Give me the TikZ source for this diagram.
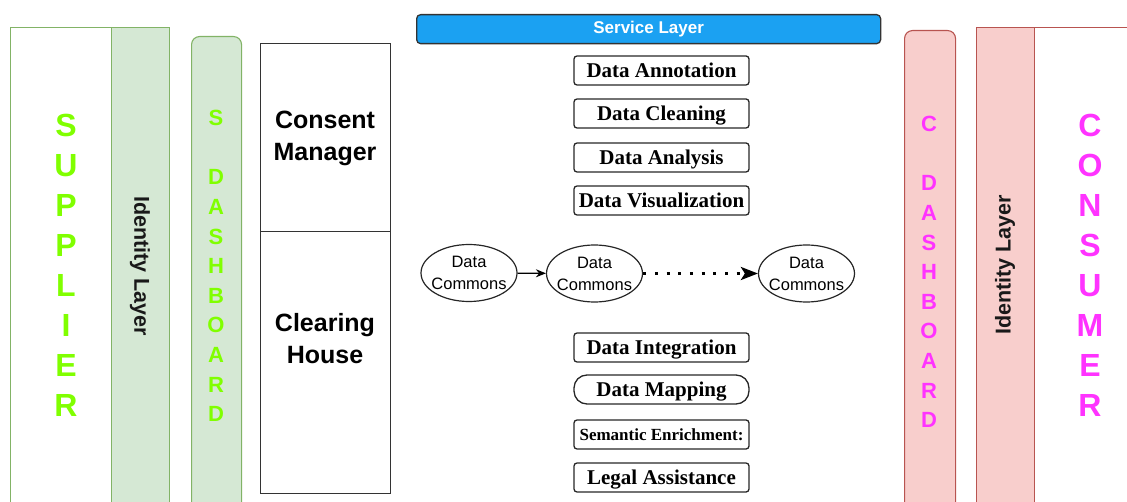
\documentclass[tikz,border=0pt]{standalone}
\usepackage{fontspec}
\setmainfont{Liberation Serif}
\setsansfont{Liberation Sans}
\usetikzlibrary{arrows.meta,shapes.geometric}
\definecolor{greenfill}{HTML}{D5E8D4}
\definecolor{greenline}{HTML}{82B366}
\definecolor{pinkfill}{HTML}{F8CECC}
\definecolor{pinkline}{HTML}{B85450}
\definecolor{limetext}{HTML}{80FF00}
\definecolor{magentatext}{HTML}{FF33FF}
\definecolor{serviceblue}{HTML}{1BA1F2}
\begin{document}
\begin{tikzpicture}[x=1pt,y=-1pt,
  panel/.style={anchor=north west, inner sep=0pt, line width=1.1pt},
  greenpanel/.style={panel, draw=greenline, fill=greenfill},
  pinkpanel/.style={panel, draw=pinkline, fill=pinkfill},
  blockbox/.style={anchor=north west, inner sep=0pt, draw=black!80, line width=1.3pt, minimum width=130pt},
  bigletters/.style={font=\sffamily\bfseries\fontsize{32}{40}\selectfont, align=center, inner sep=0pt},
  smallletters/.style={font=\sffamily\bfseries\fontsize{22}{29.6}\selectfont, align=center, inner sep=0pt},
  idtext/.style={font=\sffamily\bfseries\fontsize{21.5}{21.5}\selectfont, text=black!90, inner sep=0pt},
  blocktext/.style={font=\sffamily\bfseries\fontsize{25}{32}\selectfont, align=center, inner sep=0pt},
  svcbox/.style={draw=black!85, line width=1.3pt, rounded corners=3pt, minimum width=175pt,
    minimum height=29pt, inner sep=0pt, text height=14pt, text depth=0pt,
    font=\bfseries\fontsize{21}{21}\selectfont},
  dcshape/.style={ellipse, draw=black!85, line width=1.2pt, minimum width=96pt, minimum height=57pt, inner sep=0pt},
  dctext/.style={font=\sffamily\fontsize{16.5}{22}\selectfont, align=center, inner sep=0pt},
]
\useasboundingbox (0,0) rectangle (1127,502);

% supplier side
\node[panel, draw=greenline, fill=white, minimum width=159pt, minimum height=500pt] (supplier) at (10,27) {};
\node[greenpanel, minimum width=58pt, minimum height=500pt] (supid) at (111,27) {};
\node[greenpanel, rounded corners=8pt, minimum width=50pt, minimum height=500pt] (sdash) at (191,36) {};
\node[bigletters, text=limetext] (suptext) at (66,265) {S\\U\\P\\P\\L\\I\\E\\R};
\node[idtext, rotate=-90] (supidtext) at (140,266) {Identity Layer};
\node[smallletters, text=limetext] (sdashtext) at (216,266) {S\\\mbox{}\\D\\A\\S\\H\\B\\O\\A\\R\\D};

% consent manager and clearing house
\node[blockbox, minimum height=188pt] (consent) at (260,43) {};
\node[blockbox, minimum height=262pt] (clearing) at (260,231) {};
\node[blocktext] (consenttext) at (325,138) {Consent\\Manager};
\node[blocktext] (clearingtext) at (325,339) {Clearing\\House};

% service layer
\node[anchor=north west, draw=black!80, line width=1.3pt, fill=serviceblue, rounded corners=4pt,
  minimum width=464pt, minimum height=29pt, inner sep=0pt, text=white,
  font=\sffamily\bfseries\fontsize{17}{17}\selectfont] (service) at (416,14) {Service Layer};

\node[svcbox] (annot) at (661.5,70.5) {Data Annotation};
\node[svcbox] (clean) at (661.5,113.5) {Data Cleaning};
\node[svcbox] (analysis) at (661.5,157.5) {Data Analysis};
\node[svcbox] (visual) at (661.5,200.5) {Data Visualization};
\node[svcbox] (integ) at (661.5,347.5) {Data Integration};
\node[svcbox, rounded corners=13pt] (mapping) at (661.5,389.5) {Data Mapping};
\node[svcbox, text height=11.3pt, font=\bfseries\fontsize{17}{17}\selectfont] (semantic) at (661.5,434.5) {Semantic Enrichment:};
\node[svcbox] (legal) at (661.5,477.5) {Legal Assistance};

% chain of data commons
\node[dcshape] (dc1) at (469,273) {};
\node[dcshape] (dc2) at (594.5,273.5) {};
\node[dcshape] (dc3) at (806.5,273.5) {};
\node[dctext] (dc1t) at (dc1) {Data\\Commons};
\node[dctext] (dc2t) at (dc2) {Data\\Commons};
\node[dctext] (dc3t) at (dc3) {Data\\Commons};
\draw[line width=1.3pt, -{Stealth[length=10pt,width=8pt]}] (dc1) -- (dc2);
\draw[line width=3pt, dash pattern=on 3pt off 8.7pt, -{Stealth[length=17pt,width=13pt,inset=4pt]}] (dc2) -- (dc3);

% consumer side
\node[pinkpanel, rounded corners=8pt, minimum width=51pt, minimum height=500pt] (cdash) at (904,30) {};
\node[panel, draw=pinkline, fill=white, minimum width=200pt, minimum height=500pt] (consumer) at (976,27) {};
\node[pinkpanel, minimum width=58pt, minimum height=500pt] (conid) at (976,27) {};
\node[smallletters, text=magentatext] (cdashtext) at (929,272) {C\\\mbox{}\\D\\A\\S\\H\\B\\O\\A\\R\\D};
\node[idtext, rotate=90] (conidtext) at (1005,265) {Identity Layer};
\node[bigletters, text=magentatext] (context) at (1090,265) {C\\O\\N\\S\\U\\M\\E\\R};
\end{tikzpicture}
\end{document}
